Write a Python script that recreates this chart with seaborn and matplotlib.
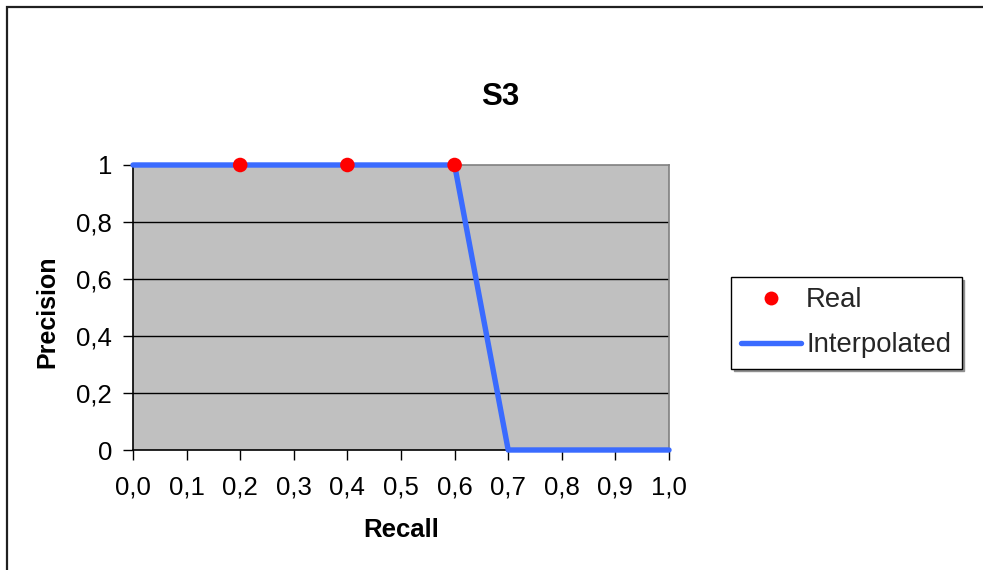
import matplotlib
matplotlib.use("Agg")
import matplotlib.pyplot as plt
from matplotlib.lines import Line2D
from matplotlib.patches import Rectangle
import seaborn as sns
import pandas as pd

# Precision/recall data for system S3
recall_interp = [0.0, 0.1, 0.2, 0.3, 0.4, 0.5, 0.6, 0.7, 0.8, 0.9, 1.0]
precision_interp = [1, 1, 1, 1, 1, 1, 1, 0, 0, 0, 0]
recall_real = [0.2, 0.4, 0.6]
precision_real = [1, 1, 1]

x_ticks = [0.0, 0.1, 0.2, 0.3, 0.4, 0.5, 0.6, 0.7, 0.8, 0.9, 1.0]
x_tick_labels = ["0,0", "0,1", "0,2", "0,3", "0,4", "0,5", "0,6", "0,7", "0,8", "0,9", "1,0"]
y_ticks = [0, 0.2, 0.4, 0.6, 0.8, 1]
y_tick_labels = ["0", "0,2", "0,4", "0,6", "0,8", "1"]

sns.set_theme(style="white")
plt.rcParams["font.family"] = ["Liberation Sans", "DejaVu Sans"]

W, H = 983, 570
fig = plt.figure(figsize=(W / 100, H / 100), dpi=100)
fig.patch.set_facecolor("white")

def fx(px):
    return px / W

def fy(py):
    return 1 - py / H

# outer chart frame (right and bottom edges run past the canvas)
fig.patches.append(Rectangle((fx(7), fy(620)), fx(1100), (620 - 7) / H,
                             transform=fig.transFigure, fill=False,
                             edgecolor="#202020", linewidth=1.6, zorder=0))

ax = fig.add_axes([fx(133), fy(450), fx(669) - fx(133), fy(165) - fy(450)])
ax.set_facecolor("#C0C0C0")

interp = pd.DataFrame({"Recall": recall_interp, "Precision": precision_interp})
real = pd.DataFrame({"Recall": recall_real, "Precision": precision_real})

for y in y_ticks[1:-1]:
    ax.axhline(y, color="black", linewidth=1.0, zorder=1)

sns.lineplot(data=interp, x="Recall", y="Precision", ax=ax, color="#3A6BFF",
             linewidth=3.9, solid_capstyle="round", clip_on=False, zorder=3,
             estimator=None, sort=False)
sns.scatterplot(data=real, x="Recall", y="Precision", ax=ax, color="#FF0000",
                s=110, edgecolor="none", clip_on=False, zorder=4)

ax.set_xlim(0, 1)
ax.set_ylim(0, 1)
ax.set_xticks(x_ticks)
ax.set_xticklabels(x_tick_labels, fontsize=18.5)
ax.set_yticks(y_ticks)
ax.set_yticklabels(y_tick_labels, fontsize=18.5)
ax.tick_params(axis="both", which="both", direction="out", length=7, width=1,
               color="black", left=True, bottom=True, labelcolor="black")
ax.tick_params(axis="x", pad=11)
ax.tick_params(axis="y", pad=8)

ax.set_xlabel("")
ax.set_ylabel("")
for side in ("top", "right"):
    ax.spines[side].set_color("#808080")
    ax.spines[side].set_linewidth(1.2)
for side in ("left", "bottom"):
    ax.spines[side].set_color("black")
    ax.spines[side].set_linewidth(1.2)

fig.text(fx(500), fy(97), "S3", ha="center", va="center",
         fontsize=22.5, fontweight="bold", color="black")
fig.text(fx(401), fy(530), "Recall", ha="center", va="center",
         fontsize=18.5, fontweight="bold", color="black")
fig.text(fx(47), fy(312), "Precision", ha="center", va="center", rotation=90,
         fontsize=18, fontweight="bold", color="black")

handles = [
    Line2D([], [], linestyle="none", marker="o", markersize=10,
           markerfacecolor="#FF0000", markeredgecolor="none"),
    Line2D([], [], color="#3A6BFF", linewidth=3.9, solid_capstyle="round"),
]
leg = fig.legend(handles, ["Real", "Interpolated"], loc="upper left",
                 bbox_to_anchor=(fx(731), fy(277)), bbox_transform=fig.transFigure,
                 fontsize=19.8, frameon=True, fancybox=False,
                 shadow={"color": "#909090", "alpha": 1},
                 borderpad=0.38, handlelength=2.15, handletextpad=0.2,
                 labelspacing=0.68, borderaxespad=0)
leg.get_frame().set_edgecolor("black")
leg.get_frame().set_linewidth(1.0)
leg.get_frame().set_facecolor("white")

fig.savefig("out.png", dpi=100, facecolor="white")
